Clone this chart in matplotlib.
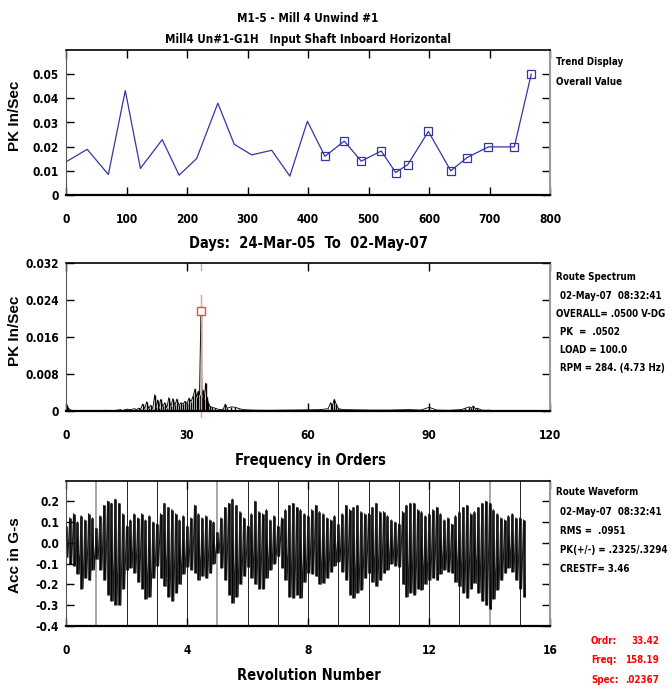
import os
import matplotlib
matplotlib.use("Agg")
import matplotlib.pyplot as plt
from matplotlib import font_manager as fm
import numpy as np

BLUE = "#3535a5"

# ---- trend (overall value) ------------------------------------------------
trend_days = [0, 35, 70, 98, 123, 159, 187, 216, 251, 278, 307, 340, 370, 399,
              428, 460, 488, 521, 545, 565, 599, 636, 663, 698, 741, 769]
trend_vals = [0.0137, 0.0189, 0.0085, 0.0432, 0.0110, 0.0229, 0.0082, 0.0151,
              0.0380, 0.0210, 0.0166, 0.0185, 0.0078, 0.0305, 0.0160, 0.0223,
              0.0140, 0.0182, 0.0093, 0.0126, 0.0263, 0.0100, 0.0155, 0.0199,
              0.0199, 0.0500]
first_marked = 14  # route readings from here on carry square markers

# ---- route spectrum (orders, PK in/sec) -----------------------------------
spec_ord = [0, 0.3, 0.6, 1.0, 1.5, 2.5, 4, 6, 8, 10, 12, 13.5, 14, 15, 16, 17,
            17.5, 18, 18.5, 19, 19.5, 20, 20.5, 21, 21.5, 22, 22.3, 22.7, 23,
            23.5, 24, 24.5, 25, 25.5, 26, 26.5, 27, 27.5, 28, 28.5, 29, 29.5,
            30, 30.5, 31, 31.5, 32, 32.4, 32.8, 33.1, 33.42, 33.7, 34.0, 34.3,
            34.6, 34.9, 35.3, 35.7, 36.2, 37, 38, 39, 39.5, 40, 41, 42, 43, 44,
            46, 50, 55, 60, 63, 65, 65.6, 66, 66.5, 67, 67.5, 68, 69, 72, 76,
            80, 85, 88, 90, 92, 95, 98, 99, 100, 100.5, 101, 101.5, 102, 103,
            104, 105]
spec_amp_milli = [1.0, 1.2, 0.6, 0.3, 0.1, 0.05, 0.05, 0.05, 0.1, 0.15, 0.1,
                  0.3, 0.1, 0.4, 0.3, 0.5, 0.3, 0.6, 0.4, 1.5, 0.5, 2.0, 0.6,
                  1.2, 0.5, 3.5, 0.8, 2.4, 0.6, 2.5, 1.0, 1.8, 0.7, 2.9, 1.0,
                  2.7, 1.2, 2.6, 1.2, 1.8, 1.5, 2.1, 1.6, 2.8, 2.0, 3.2, 4.8,
                  3.0, 4.3, 3.5, 20.5, 3.0, 4.5, 2.5, 6.0, 3.0, 1.8, 1.0, 0.8,
                  0.6, 0.3, 0.4, 1.5, 0.6, 0.9, 0.8, 0.5, 0.3, 0.2, 0.15, 0.2,
                  0.25, 0.3, 0.5, 1.8, 1.0, 2.5, 1.5, 0.6, 0.4, 0.3, 0.25, 0.2,
                  0.2, 0.3, 0.2, 0.8, 0.2, 0.15, 0.3, 0.6, 0.9, 0.6, 1.1, 0.5,
                  0.6, 0.2, 0.15, 0.2]
cursor_ord, cursor_amp = 33.42, 0.0217

# ---- route waveform: positive / negative peaks every 1/8 revolution -------
wave_upper = [0.08, 0.12, 0.14, 0.10, 0.13, 0.11, 0.14, 0.12,
              0.07, 0.13, 0.18, 0.20, 0.19, 0.21, 0.19, 0.14,
              0.08, 0.11, 0.14, 0.12, 0.14, 0.11, 0.13, 0.10,
              0.09, 0.14, 0.19, 0.17, 0.16, 0.14, 0.11, 0.13,
              0.08, 0.12, 0.18, 0.14, 0.12, 0.13, 0.11, 0.10,
              0.05, 0.12, 0.17, 0.19, 0.21, 0.18, 0.15, 0.12,
              0.08, 0.14, 0.20, 0.15, 0.14, 0.16, 0.11, 0.13,
              0.08, 0.12, 0.16, 0.18, 0.19, 0.17, 0.16, 0.14,
              0.13, 0.16, 0.18, 0.15, 0.14, 0.12, 0.11, 0.13,
              0.09, 0.14, 0.18, 0.16, 0.17, 0.18, 0.15, 0.14,
              0.14, 0.17, 0.19, 0.15, 0.15, 0.13, 0.11, 0.10,
              0.09, 0.15, 0.18, 0.19, 0.19, 0.16, 0.15, 0.13,
              0.14, 0.16, 0.17, 0.14, 0.11, 0.12, 0.09, 0.13,
              0.15, 0.17, 0.18, 0.14, 0.15, 0.17, 0.19, 0.20,
              0.19, 0.16, 0.14, 0.12, 0.11, 0.13, 0.14, 0.12,
              0.12, 0.11]
wave_lower = [-0.07, -0.10, -0.11, -0.15, -0.22, -0.17, -0.18, -0.13,
              -0.08, -0.13, -0.18, -0.25, -0.28, -0.30, -0.30, -0.22,
              -0.13, -0.12, -0.145, -0.19, -0.22, -0.27, -0.26, -0.17,
              -0.11, -0.17, -0.21, -0.26, -0.28, -0.24, -0.20, -0.15,
              -0.115, -0.13, -0.145, -0.18, -0.16, -0.17, -0.145, -0.10,
              -0.05, -0.12, -0.18, -0.25, -0.29, -0.26, -0.20, -0.16,
              -0.115, -0.17, -0.20, -0.22, -0.22, -0.17, -0.13, -0.10,
              -0.065, -0.12, -0.18, -0.26, -0.265, -0.25, -0.265, -0.19,
              -0.145, -0.15, -0.16, -0.20, -0.195, -0.17, -0.14, -0.11,
              -0.09, -0.14, -0.18, -0.25, -0.265, -0.24, -0.225, -0.17,
              -0.145, -0.19, -0.21, -0.18, -0.145, -0.13, -0.10, -0.11,
              -0.115, -0.20, -0.26, -0.24, -0.25, -0.22, -0.225, -0.20,
              -0.18, -0.17, -0.18, -0.15, -0.13, -0.14, -0.145, -0.19,
              -0.21, -0.24, -0.265, -0.22, -0.195, -0.24, -0.28, -0.30,
              -0.32, -0.27, -0.225, -0.18, -0.145, -0.12, -0.14, -0.18,
              -0.22, -0.26]
wave_step = 0.125  # revolutions between readings
rev_marks = list(range(1, 16))


def find_font(preferred, fallback):
    files = [f.fname for f in fm.fontManager.ttflist]
    base = {os.path.basename(p).lower(): p for p in files}
    for key in preferred:
        if key in base:
            return base[key]
    for p in files:   # any other narrow / condensed bold face
        n = os.path.basename(p).lower()
        if ("narrow" in n or "condensed" in n) and "bold" in n and "italic" not in n \
                and "oblique" not in n:
            return p
    for key in fallback:
        if key in base:
            return base[key]
    return None


narrow_path = find_font(["liberationsansnarrow-bold.ttf", "arialnarrowbold.ttf",
                         "dejavusanscondensed-bold.ttf", "robotocondensed-bold.ttf"],
                        ["liberationsans-bold.ttf", "dejavusans-bold.ttf"])
wide_path = find_font(["liberationsans-bold.ttf", "arialbd.ttf"], ["dejavusans-bold.ttf"])


def fp(path, size, family="DejaVu Sans"):
    if path:
        return fm.FontProperties(fname=path, size=size)
    return fm.FontProperties(family=family, weight="bold", size=size)


W, H = 672, 689
fig = plt.figure(figsize=(W / 100, H / 100), dpi=100)

# size the narrow face so a known line spans what it spans in the chart (~110 px)
rend = fig.canvas.get_renderer()
probe = fig.text(0, 0, "OVERALL= .0500 V-DG", fontproperties=fp(narrow_path, 10))
NSIZE = min(10.0, 10 * 110 / probe.get_window_extent(rend).width)
probe.remove()
TSIZE = NSIZE * 1.22   # tick labels
LSIZE = NSIZE * 1.5    # axis titles under the panels
HSIZE = NSIZE * 1.2    # header lines


def box(top, bottom, left=66, right=550):
    return [left / W, 1 - bottom / H, (right - left) / W, (bottom - top) / H]


def style(ax):
    ax.tick_params(direction="in", top=True, right=True, length=6, width=1, pad=5)
    ax.tick_params(axis="x", pad=13)
    for lab in ax.get_xticklabels() + ax.get_yticklabels():
        lab.set_fontproperties(fp(narrow_path, TSIZE))
    ax.spines["right"].set_color("#9a9a9a"); ax.spines["right"].set_linewidth(1.5)
    ax.spines["left"].set_color("#555555")
    ax.spines["bottom"].set_linewidth(1.6)
    ax.spines["top"].set_linewidth(1.2)


def ftext(x, y, s, path=None, size=None, **kw):
    fig.text(x / W, 1 - y / H, s,
             fontproperties=fp(path or narrow_path, size or NSIZE), **kw)


# ---- 1. trend -------------------------------------------------------------
ax1 = fig.add_axes(box(50, 195))
ax1.plot(trend_days, trend_vals, color=BLUE, lw=0.9)
ax1.plot(trend_days[first_marked:], trend_vals[first_marked:], ls="none", marker="s",
         ms=5.5, mfc="none", mec=BLUE, mew=0.9)
ax1.set_xlim(0, 800); ax1.set_ylim(0, 0.06)
ax1.set_xticks(range(0, 801, 100))
ax1.set_yticks([0, 0.01, 0.02, 0.03, 0.04, 0.05])
ax1.set_yticklabels(["0", "0.01", "0.02", "0.03", "0.04", "0.05"])
style(ax1)

# ---- 2. spectrum ----------------------------------------------------------
ax2 = fig.add_axes(box(263, 411))
amps = np.array(spec_amp_milli) / 1000
ax2.vlines(spec_ord, 0, amps, color="black", lw=1.0)
ax2.plot(spec_ord, amps, color="black", lw=0.6)
ax2.plot([cursor_ord, cursor_ord], [0.0250, -0.0012], color="#ff9090", lw=1, clip_on=False)
ax2.plot([cursor_ord, cursor_ord], [0.0320, 0.0305], color="#ff9090", lw=1, clip_on=False)
ax2.plot([cursor_ord], [cursor_amp], ls="none", marker="s", ms=6, mfc="white",
         mec="#ff4040", mew=1)
ax2.set_xlim(0, 120); ax2.set_ylim(0, 0.032)
ax2.set_xticks([0, 30, 60, 90, 120])
ax2.set_yticks([0, 0.008, 0.016, 0.024, 0.032])
ax2.set_yticklabels(["0", "0.008", "0.016", "0.024", "0.032"])
style(ax2)

# ---- 3. waveform ----------------------------------------------------------
ax3 = fig.add_axes(box(481, 626))
for r in rev_marks:
    gray = r in (1, 5, 14)
    ax3.axvline(r, color="#9a9a9a" if gray else "#222222", lw=1.2 if gray else 0.7, zorder=1)
wave_x = [i * wave_step for i in range(len(wave_upper))]
wx, wy = [], []
for x, hi, lo in zip(wave_x, wave_upper, wave_lower):
    wx += [x, x + wave_step / 2]
    wy += [hi, lo]
ax3.vlines(wave_x, wave_lower, wave_upper, color="black", lw=1.8, zorder=2)
ax3.plot(wx, wy, color="#1a1a1a", lw=0.8, zorder=3)
ax3.set_xlim(0, 16); ax3.set_ylim(-0.4, 0.297)
ax3.set_xticks([0, 4, 8, 12, 16])
ax3.set_yticks([-0.4, -0.3, -0.2, -0.1, 0.0, 0.1, 0.2])
ax3.set_yticklabels(["-0.4", "-0.3", "-0.2", "-0.1", "0.0", "0.1", "0.2"])
style(ax3)

# ---- text -----------------------------------------------------------------
ftext(308, 18, "M1-5 - Mill 4 Unwind #1", size=HSIZE, ha="center", va="center")
ftext(308, 39, "Mill4 Un#1-G1H   Input Shaft Inboard Horizontal", size=HSIZE,
      ha="center", va="center")
ftext(308, 243, "Days:  24-Mar-05  To  02-May-07", size=LSIZE, ha="center", va="center")
ftext(310, 460, "Frequency in Orders", size=LSIZE, ha="center", va="center")
ftext(309, 676, "Revolution Number", size=LSIZE, ha="center", va="center")
for y, s in [(116, "PK In/Sec"), (331, "PK In/Sec"), (555, "Acc in G-s")]:
    ftext(15, y, s, path=wide_path, size=11, rotation=90, ha="center", va="center")

side = [(556, 62, "Trend Display"), (556, 82, "Overall Value"),
        (556, 277, "Route Spectrum"), (560, 296, "02-May-07  08:32:41"),
        (556, 314, "OVERALL= .0500 V-DG"), (560, 332, "PK  =  .0502"),
        (560, 350, "LOAD = 100.0"), (560, 368, "RPM = 284. (4.73 Hz)"),
        (556, 492, "Route Waveform"), (560, 512, "02-May-07  08:32:41"),
        (560, 531, "RMS =  .0951"), (560, 550, "PK(+/-) = .2325/.3294"),
        (560, 569, "CRESTF= 3.46")]
for x, y, s in side:
    ftext(x, y, s, ha="left", va="center")
for y, k, v in [(641, "Ordr:", "33.42"), (660, "Freq:", "158.19"), (680, "Spec:", ".02367")]:
    ftext(591, y, k, color="red", ha="left", va="center")
    ftext(659, y, v, color="red", ha="right", va="center")

fig.savefig("out.png", dpi=100)
